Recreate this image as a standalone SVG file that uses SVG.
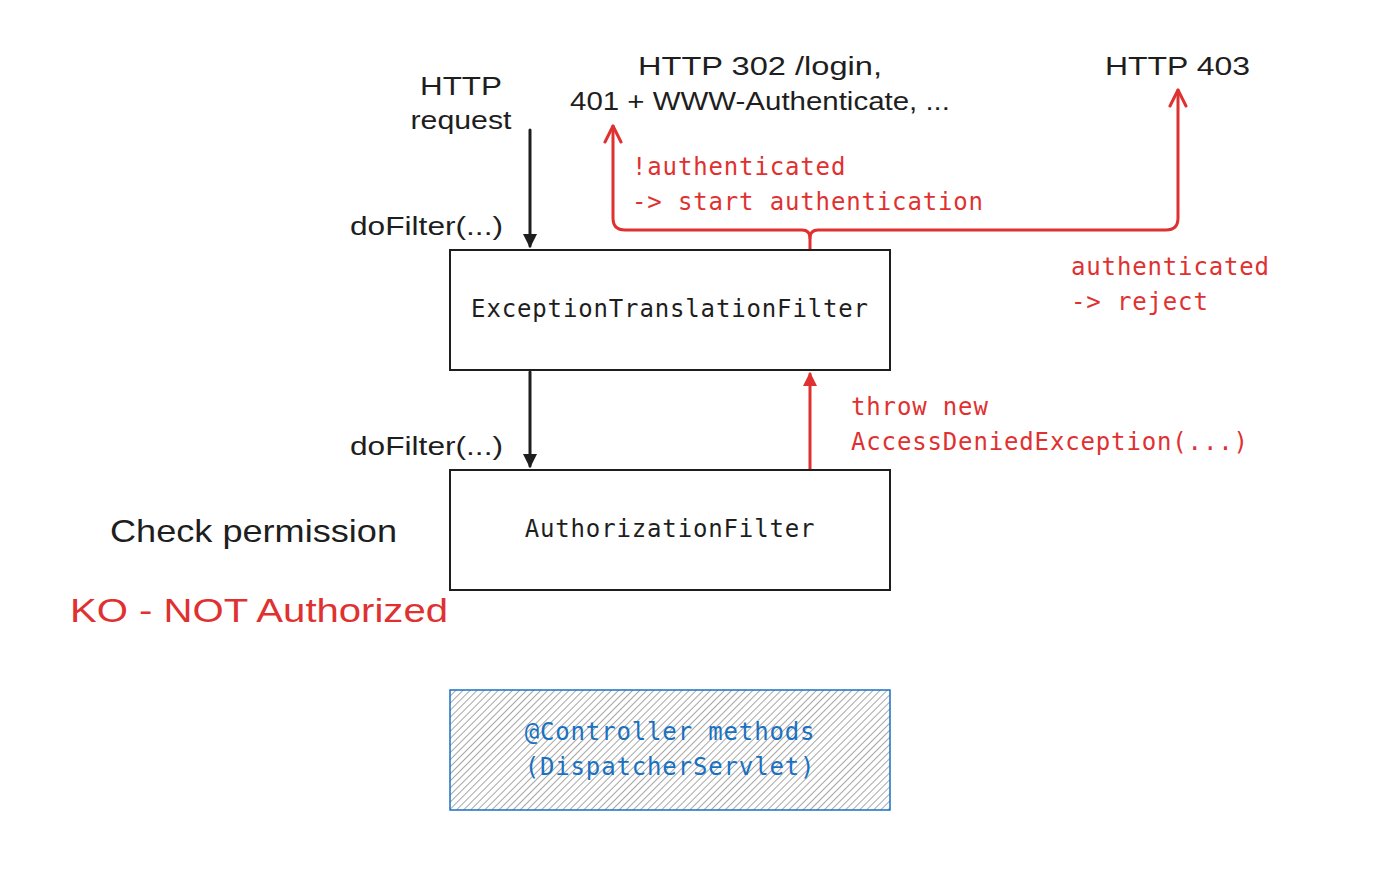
<svg xmlns="http://www.w3.org/2000/svg" width="1380" height="880" viewBox="0 0 1380 880">
<style>
.box{fill:#ffffff;stroke:#1e1e1e;stroke-width:2}
.mono{font-family:"DejaVu Sans Mono","Liberation Mono",monospace;font-size:24px;letter-spacing:0.85px}
.hand{font-family:"Liberation Sans","DejaVu Sans",sans-serif}
.blk{fill:#1e1e1e}
.red{fill:#e03131}
.blue{fill:#1971c2}
.lk{fill:none;stroke:#1e1e1e;stroke-width:3;stroke-linecap:round}
.lr{fill:none;stroke:#e03131;stroke-width:3;stroke-linecap:round;stroke-linejoin:round}
</style>
<defs>
<pattern id="hatch" patternUnits="userSpaceOnUse" width="5" height="5" patternTransform="rotate(45)">
<line x1="0" y1="0" x2="0" y2="5" stroke="#8a8a8a" stroke-width="1.5"/>
</pattern>
<marker id="ak" viewBox="0 0 14 14" refX="12" refY="7" markerWidth="14" markerHeight="14" markerUnits="userSpaceOnUse" orient="auto">
<path d="M0,0 L14,7 L0,14 Z" fill="#1e1e1e"/>
</marker>
<marker id="ar" viewBox="0 0 14 14" refX="12" refY="7" markerWidth="14" markerHeight="14" markerUnits="userSpaceOnUse" orient="auto">
<path d="M0,0 L14,7 L0,14 Z" fill="#e03131"/>
</marker>
<marker id="arc" viewBox="0 0 20 20" refX="18" refY="10" markerWidth="20" markerHeight="20" markerUnits="userSpaceOnUse" orient="auto">
<path d="M2,2 L18,10 L2,18" fill="none" stroke="#e03131" stroke-width="3" stroke-linecap="round" stroke-linejoin="round"/>
</marker>
</defs>
<rect width="1380" height="880" fill="#ffffff"/>

<g id="connectors">
<line class="lk" x1="530" y1="130" x2="530" y2="246" marker-end="url(#ak)"/>
<line class="lk" x1="530" y1="372" x2="530" y2="466" marker-end="url(#ak)"/>
<line class="lr" x1="810" y1="470" x2="810" y2="374" marker-end="url(#ar)"/>
<path class="lr" d="M810,250 L810,238 Q810,230 802,230 L625,230 Q613,230 613,218 L613,126" marker-end="url(#arc)"/>
<path class="lr" d="M810,238 Q810,230 818,230 L1166,230 Q1178,230 1178,218 L1178,90" marker-end="url(#arc)"/>
</g>

<g id="etf">
<rect class="box" x="450" y="250" width="440" height="120"/>
<text class="mono blk" x="670" y="317" text-anchor="middle">ExceptionTranslationFilter</text>
</g>

<g id="af">
<rect class="box" x="450" y="470" width="440" height="120"/>
<text class="mono blk" x="670" y="537" text-anchor="middle">AuthorizationFilter</text>
</g>

<g id="controller">
<rect x="450" y="690" width="440" height="120" fill="url(#hatch)" stroke="#1971c2" stroke-width="1.5"/>
<text class="mono blue" x="670" y="740" text-anchor="middle">@Controller methods</text>
<text class="mono blue" x="670" y="775" text-anchor="middle">(DispatcherServlet)</text>
</g>

<g id="labels">
<text class="hand blk" font-size="25" x="461" y="95" text-anchor="middle" textLength="82" lengthAdjust="spacingAndGlyphs">HTTP</text>
<text class="hand blk" font-size="25" x="461" y="129" text-anchor="middle" textLength="101" lengthAdjust="spacingAndGlyphs">request</text>
<text class="hand blk" font-size="25" x="350" y="235" textLength="153" lengthAdjust="spacingAndGlyphs">doFilter(...)</text>
<text class="hand blk" font-size="25" x="350" y="455" textLength="153" lengthAdjust="spacingAndGlyphs">doFilter(...)</text>
<text class="hand blk" font-size="25" x="638" y="75" textLength="244" lengthAdjust="spacingAndGlyphs">HTTP 302 /login,</text>
<text class="hand blk" font-size="25" x="570" y="110" textLength="380" lengthAdjust="spacingAndGlyphs">401 + WWW-Authenticate, ...</text>
<text class="hand blk" font-size="25" x="1105" y="75" textLength="145" lengthAdjust="spacingAndGlyphs">HTTP 403</text>
<text class="mono red" x="632" y="175">!authenticated</text>
<text class="mono red" x="632" y="210">-&gt; start authentication</text>
<text class="mono red" x="1071" y="275">authenticated</text>
<text class="mono red" x="1071" y="310">-&gt; reject</text>
<text class="mono red" x="851" y="415">throw new</text>
<text class="mono red" x="851" y="450">AccessDeniedException(...)</text>
<text class="hand blk" font-size="32" x="110" y="542" textLength="287" lengthAdjust="spacingAndGlyphs">Check permission</text>
<text class="hand red" font-size="33" x="70" y="622" textLength="378" lengthAdjust="spacingAndGlyphs">KO - NOT Authorized</text>
</g>
</svg>
